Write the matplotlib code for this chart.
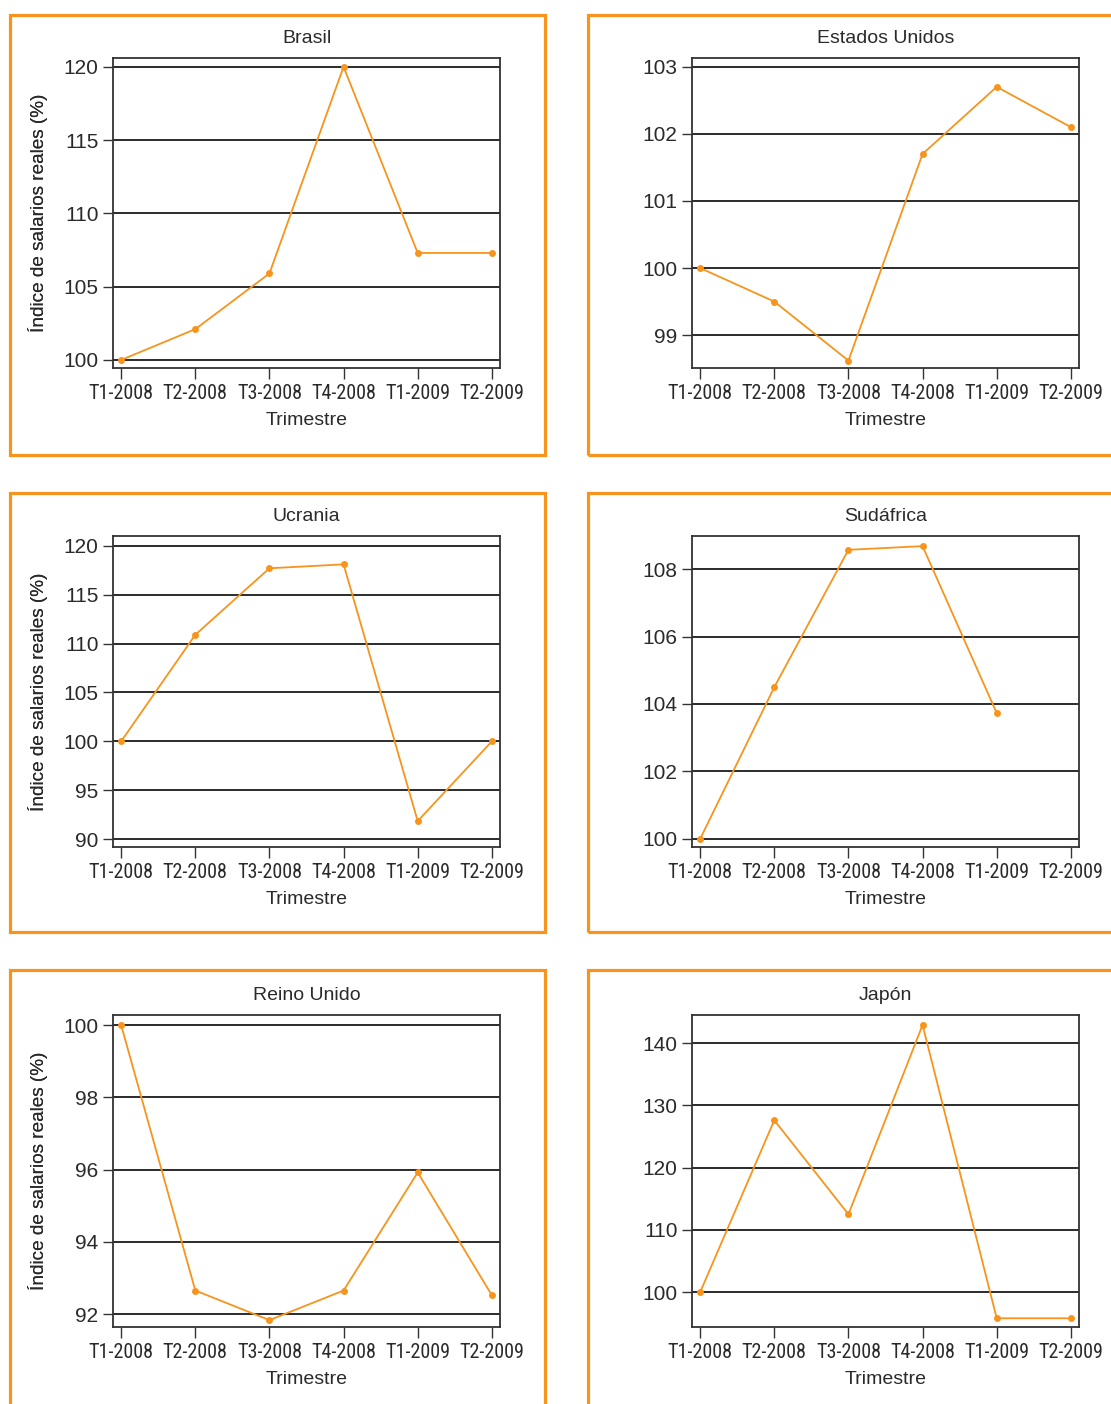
import numpy as np
import matplotlib
matplotlib.use("Agg")
import matplotlib.pyplot as plt
from matplotlib.patches import Rectangle

trimestres = ["T1-2008", "T2-2008", "T3-2008", "T4-2008", "T1-2009", "T2-2009"]

brasil = [100.0, 102.1, 105.9, 120.0, 107.3, 107.3]
estados_unidos = [100.0, 99.5, 98.62, 101.7, 102.7, 102.1]
ucrania = [100.0, 110.9, 117.7, 118.1, 91.85, 100.0]
sudafrica = [100.0, 104.5, 108.57, 108.68, 103.73, np.nan]
reino_unido = [100.0, 92.65, 91.83, 92.65, 95.92, 92.52]
japon = [100.0, 127.6, 112.5, 142.9, 95.8, 95.8]

titles = ["Brasil", "Estados Unidos", "Ucrania", "Sudáfrica", "Reino Unido", "Japón"]
series = [brasil, estados_unidos, ucrania, sudafrica, reino_unido, japon]
yticks = [
    [100, 105, 110, 115, 120],
    [99, 100, 101, 102, 103],
    [90, 95, 100, 105, 110, 115, 120],
    [100, 102, 104, 106, 108],
    [92, 94, 96, 98, 100],
    [100, 110, 120, 130, 140],
]
ylims = [
    (99.45, 120.6),
    (98.51, 103.13),
    (89.2, 121.0),
    (99.76, 108.98),
    (91.64, 100.28),
    (94.4, 144.5),
]

W, H = 1111, 1404
ORANGE = "#F7941D"
TEXT = "#2a2a2a"
fig = plt.figure(figsize=(W / 100, H / 100), dpi=100)

base_font = ["Liberation Sans", "DejaVu Sans"]
narrow_font = ["Roboto Condensed", "PT Sans Narrow", "DejaVu Sans"]

# axes boxes in pixels (left, right) / (top, bottom)
col_x = [(113, 500), (692, 1079)]
row_y = [(58, 368), (536, 847), (1015, 1327)]

# orange panel frames (pixel centers of the 3px lines)
frame_cols = [(9.5, 545.0), (587.7, 1125.0)]
frame_rows = [(14.5, 454.5), (493.0, 932.3), (970.3, 1420.0)]
for (fx0, fx1) in frame_cols:
    for (fy0, fy1) in frame_rows:
        rect = Rectangle((fx0 / W, 1 - fy1 / H), (fx1 - fx0) / W, (fy1 - fy0) / H,
                         transform=fig.transFigure, fill=False,
                         edgecolor=ORANGE, linewidth=2.3, zorder=0)
        fig.add_artist(rect)

x = np.arange(len(trimestres))
for i, (title, vals) in enumerate(zip(titles, series)):
    r, c = divmod(i, 2)
    x0, x1 = col_x[c]
    y0, y1 = row_y[r]
    ax = fig.add_axes([x0 / W, 1 - y1 / H, (x1 - x0) / W, (y1 - y0) / H])
    ax.set_xlim(-0.11, 5.11)
    ax.set_ylim(*ylims[i])
    ax.set_yticks(yticks[i])
    ax.set_xticks(x)
    ax.set_xticklabels(trimestres, family=narrow_font, fontsize=14.5, color=TEXT)
    for lab in ax.get_yticklabels():
        lab.set_family(base_font)
        lab.set_fontsize(15)
        lab.set_color(TEXT)
    ax.grid(axis="y", color="#1a1a1a", linewidth=1.3, zorder=1)
    ax.set_axisbelow(True)
    ax.tick_params(axis="x", length=8, width=1.0, pad=3.5, color="#333333")
    ax.tick_params(axis="y", length=7, width=1.0, pad=3.5, color="#333333")
    for sp in ax.spines.values():
        sp.set_color("#333333")
        sp.set_linewidth(1.3)
    ax.plot(x, vals, color=ORANGE, linewidth=1.3, marker="o", markersize=5,
            markeredgewidth=0, zorder=3, clip_on=False)
    ax.set_title(title, family=base_font, fontsize=14, color=TEXT, pad=10.5)
    ax.set_xlabel("Trimestre", family=base_font, fontsize=14, color=TEXT)
    ax.set_ylabel("Índice de salarios reales (%)", family=base_font, fontsize=13.7, color=TEXT)
    h = y1 - y0
    ax.xaxis.set_label_coords(0.5, -44.0 / h)
    ax.yaxis.set_label_coords((48 - x0) / (x1 - x0), 0.5)

fig.savefig("out.png", dpi=100, facecolor="white")
